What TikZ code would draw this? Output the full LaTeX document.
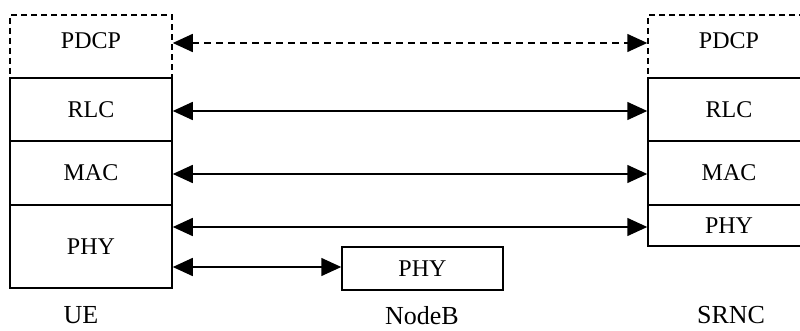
\documentclass[tikz,border=0pt]{standalone}
\usepackage{fontspec}
\setmainfont{Liberation Serif}
\usetikzlibrary{arrows.meta}

\tikzset{
	layer/.style={draw, line width=1.5pt, inner sep=0pt, minimum width=162pt, font=\fontsize{24}{24}\selectfont},
	dlayer/.style={layer, dashed, dash pattern=on 6pt off 4pt},
	link/.style={line width=1.5pt, {Triangle[length=20pt,width=18pt]}-{Triangle[length=20pt,width=18pt]}},
	dlink/.style={link, dash pattern=on 7pt off 5pt},
	entity/.style={font=\fontsize{26}{26}\selectfont}
}

\begin{document}
\begin{tikzpicture}[x=1pt, y=-1pt]
			\useasboundingbox (0,0) rectangle (800,331);
			
			% UE
			\node[dlayer, minimum height=63pt, text depth=12pt] (uepdcp) at (91,46.5) {PDCP};
			\node[layer, minimum height=63pt] (uerlc) at (91,109.5) {RLC};
			\node[layer, minimum height=64pt] (uemac) at (91,173) {MAC};
			\node[layer, minimum height=83pt] (uephy) at (91,246.5) {PHY};
			
			% SRNC
			\node[dlayer, minimum height=63pt, text depth=12pt] (srpdcp) at (729,46.5) {PDCP};
			\node[layer, minimum height=63pt] (srrlc) at (729,109.5) {RLC};
			\node[layer, minimum height=64pt] (srmac) at (729,173) {MAC};
			\node[layer, minimum height=41pt] (srphy) at (729,225.5) {PHY};
			
			% NodeB
			\node[layer, minimum width=161pt, minimum height=43pt] (nbphy) at (422.5,268.5) {PHY};
			
			\node[entity] (ue) at (81,315) {UE};
			\node[entity] (nb) at (422,316) {NodeB};
			\node[entity] (srnc) at (731,315) {SRNC};
			
			\draw[dlink] ([yshift=3.5pt]uepdcp.east) -- ([yshift=3.5pt]srpdcp.west);
			\draw[link] ([yshift=-1.5pt]uerlc.east) -- ([yshift=-1.5pt]srrlc.west);
			\draw[link] ([yshift=-1pt]uemac.east) -- ([yshift=-1pt]srmac.west);
			\draw[link] ([yshift=-1.5pt]uephy.east |- srphy.west) -- ([yshift=-1.5pt]srphy.west);
			\draw[link] ([yshift=1.5pt]uephy.east |- nbphy.west) -- ([yshift=1.5pt]nbphy.west);
		\end{tikzpicture}
\end{document}
